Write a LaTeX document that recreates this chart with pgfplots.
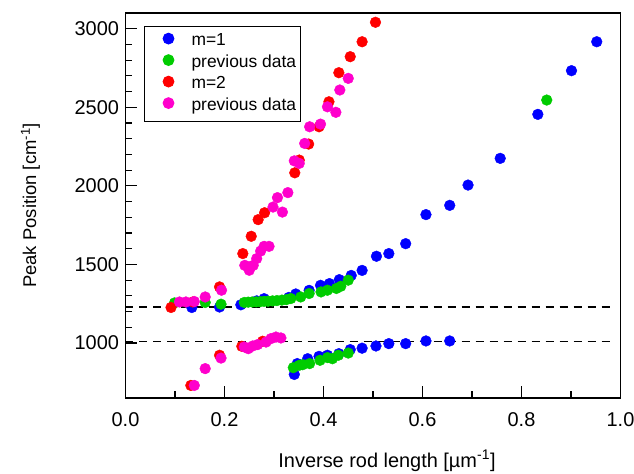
\documentclass[border=0pt]{standalone}
\usepackage{fontspec}
\setmainfont{Liberation Sans}
\usepackage{pgfplots}
\pgfplotsset{compat=1.18}
\definecolor{cblue}{RGB}{0,0,255}
\definecolor{cgreen}{RGB}{0,204,0}
\definecolor{cred}{RGB}{255,0,0}
\definecolor{cmag}{RGB}{255,0,204}
\begin{document}
\begin{tikzpicture}
\begin{axis}[
  scale only axis, width=495bp, height=385bp,
  xmin=0, xmax=1, ymin=650, ymax=3100,
  axis line style={line width=1.2bp},
  xtick={0,0.2,0.4,0.6,0.8,1.0}, minor x tick num=1,
  ytick={1000,1500,2000,2500,3000}, minor y tick num=4,
  tick align=inside, major tick length=12bp, minor tick length=7bp,
  xtick pos=bottom, ytick pos=left,
  every tick/.style={line width=1.2bp, black},
  /pgf/number format/assume math mode=true,
  /pgf/number format/1000 sep={},
  scaled y ticks=false,
  x tick label style={/pgf/number format/.cd, fixed, fixed zerofill, precision=1, /tikz/.cd, yshift=-11bp},
  y tick label style={xshift=-3bp},
  tick label style={font=\fontsize{20}{20}\selectfont},
  xlabel={Inverse rod length [µm\textsuperscript{-1}]},
  ylabel={Peak Position [cm\textsuperscript{-1}]},
  every axis x label/.style={at={(rel axis cs:0.5,0)}, anchor=center, yshift=-63bp, xshift=14bp, font=\fontsize{20}{20}\selectfont},
  every axis y label/.style={at={(rel axis cs:0,0.5)}, anchor=center, xshift=-95bp, rotate=90, font=\fontsize{18.5}{18.5}\selectfont},
  legend image code/.code={\path[draw=none,fill=none] (0bp,-7bp) rectangle (40bp,12bp); \draw[#1] plot coordinates {(20bp,4.5bp)};},
  legend style={at={(0.0374,0.966)}, anchor=north west, draw=black, line width=1bp,
    font=\fontsize{17.5}{17.5}\selectfont, inner xsep=4bp, inner ysep=4.5bp,
    column sep=3bp, row sep=0bp,
    nodes={inner sep=0bp, text height=12bp, text depth=7bp}},
  legend cell align=left,
  only marks,
]
\addplot[color=cblue, mark=*, mark size=5.4pt] coordinates {
(0.134,1226) (0.190,1229) (0.233,1243) (0.265,1268) (0.280,1282) (0.330,1290)
(0.344,1312) (0.371,1335) (0.394,1367) (0.412,1378) (0.432,1403) (0.456,1430)
(0.478,1462) (0.507,1552) (0.532,1569) (0.566,1632) (0.607,1817) (0.655,1876)
(0.692,2005) (0.757,2175) (0.833,2455) (0.901,2733) (0.952,2917)
(0.341,800) (0.347,869) (0.368,900) (0.391,915) (0.408,922) (0.431,932)
(0.454,958) (0.478,967) (0.506,981) (0.532,996) (0.566,996) (0.607,1013) (0.655,1013)
};
\addlegendentry{m=1}
\addplot[color=cgreen, mark=*, mark size=5.4pt] coordinates {
(0.099,1255) (0.161,1258) (0.193,1247)
(0.240,1258) (0.248,1260) (0.256,1261) (0.264,1262) (0.272,1263) (0.280,1265)
(0.288,1266) (0.297,1268) (0.306,1270) (0.316,1273) (0.325,1276) (0.334,1283)
(0.354,1293) (0.371,1315) (0.395,1325) (0.408,1336) (0.426,1347) (0.435,1361)
(0.450,1400) (0.851,2546)
(0.339,843) (0.351,858) (0.358,862) (0.372,869) (0.393,890) (0.408,907)
(0.418,900) (0.430,922) (0.450,936)
};
\addlegendentry{previous data}
\addplot[color=cred, mark=*, mark size=5.4pt] coordinates {
(0.092,1226) (0.136,1261) (0.190,1357) (0.132,730) (0.190,922)
(0.235,979) (0.277,1011)
(0.237,1569) (0.254,1679) (0.268,1785) (0.281,1829)
(0.342,2083) (0.351,2164) (0.370,2266) (0.391,2376) (0.411,2535)
(0.431,2720) (0.454,2822) (0.478,2917) (0.505,3041)
};
\addlegendentry{m=2}
\addplot[color=cmag, mark=*, mark size=5.4pt] coordinates {
(0.109,1261) (0.122,1261) (0.139,1264) (0.161,1293) (0.194,1336)
(0.139,730) (0.161,837) (0.193,904)
(0.240,975) (0.248,964) (0.257,981) (0.267,990) (0.284,1006) (0.294,1028)
(0.304,1038) (0.314,1032)
(0.241,1494) (0.250,1463) (0.258,1494) (0.265,1537) (0.273,1585) (0.280,1615)
(0.290,1615)
(0.298,1865) (0.307,1925) (0.317,1833) (0.328,1957)
(0.341,2159) (0.351,2143) (0.362,2270) (0.372,2376) (0.394,2393) (0.408,2503)
(0.425,2468) (0.433,2610) (0.450,2684)
};
\addlegendentry{previous data}
\addplot[forget plot, no marks, sharp plot, black, line width=1.3bp, dash pattern=on 8bp off 6bp] coordinates {(0,1230) (0.985,1230)};
\addplot[forget plot, no marks, sharp plot, black, line width=1.3bp, dash pattern=on 8bp off 6bp] coordinates {(0,1011) (0.985,1011)};
\coordinate (SW) at (rel axis cs:0,0);
\coordinate (NE) at (rel axis cs:1,1);
\end{axis}
\pgfresetboundingbox
\useasboundingbox ([xshift=-125.5bp,yshift=-76bp]SW) rectangle ([xshift=13.5bp,yshift=13bp]NE);
\end{tikzpicture}
\end{document}
